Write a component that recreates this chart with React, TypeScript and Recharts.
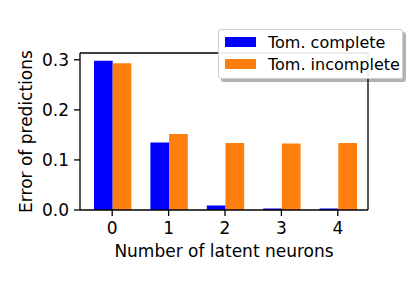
import { BarChart, Bar, XAxis, YAxis, Legend } from 'recharts';

const categories = ['0', '1', '2', '3', '4'];
const complete = [0.298, 0.135, 0.009, 0.003, 0.003];
const incomplete = [0.293, 0.152, 0.134, 0.133, 0.134];
const yTicks = [0, 0.1, 0.2, 0.3];

const data = categories.map((n, i) => ({ n, complete: complete[i], incomplete: incomplete[i] }));

const FONT = '"DejaVu Sans", sans-serif';
const BLUE = '#0000ff';
const ORANGE = '#ff7f0e';

const LegendBox = (props: any) => {
  const { payload = [] } = props;
  return (
    <div
      style={{
        width: 185,
        height: 50,
        boxSizing: 'border-box',
        border: '1px solid #cccccc',
        borderRadius: 3,
        background: 'rgba(255,255,255,0.9)',
        boxShadow: '3px 3px 0 rgba(0,0,0,0.3)',
        padding: '1px 0 0 6px',
        fontFamily: FONT,
        fontSize: 16,
        color: '#000',
        whiteSpace: 'nowrap',
      }}
    >
      {payload.map((entry: any) => (
        <div key={entry.value} style={{ display: 'flex', alignItems: 'center', height: 22 }}>
          <span style={{ width: 31, height: 10, background: entry.color, marginRight: 12, display: 'inline-block' }} />
          <span>{entry.value}</span>
        </div>
      ))}
    </div>
  );
};

export default function App() {
  const tickStyle = { fontSize: 17, fill: '#000', fontFamily: FONT };
  return (
    <div style={{ position: 'absolute', left: 0, top: 0, width: 415, height: 281, background: '#fff' }}>
      <BarChart
        width={415}
        height={281}
        data={data}
        margin={{ top: 52, right: 46, bottom: 0, left: 0 }}
        barGap={0}
      >
        <XAxis
          xAxisId="bottom"
          dataKey="n"
          height={71}
          padding={{ left: 4, right: 2 }}
          tick={tickStyle}
          tickSize={6}
          tickMargin={6}
          axisLine={{ stroke: '#000', strokeWidth: 1.3 }}
          tickLine={{ stroke: '#000', strokeWidth: 1.3 }}
          label={{
            value: 'Number of latent neurons',
            position: 'insideBottom',
            offset: 24,
            style: { fontSize: 17, fill: '#000', fontFamily: FONT },
          }}
        />
        <XAxis
          xAxisId="top"
          orientation="top"
          dataKey="n"
          height={1}
          tick={false}
          tickLine={false}
          axisLine={{ stroke: '#000', strokeWidth: 1.3 }}
        />
        <YAxis
          yAxisId="left"
          width={80}
          domain={[0, 0.3135]}
          ticks={yTicks}
          tickFormatter={(v: number) => v.toFixed(1)}
          tick={tickStyle}
          tickSize={6}
          tickMargin={5}
          axisLine={{ stroke: '#000', strokeWidth: 1.3 }}
          tickLine={{ stroke: '#000', strokeWidth: 1.3 }}
          label={{
            value: 'Error of predictions',
            angle: -90,
            position: 'center',
            dx: -14,
            style: { fontSize: 17, fill: '#000', fontFamily: FONT },
          }}
        />
        <YAxis
          yAxisId="right"
          orientation="right"
          width={1}
          domain={[0, 0.3135]}
          tick={false}
          tickLine={false}
          axisLine={{ stroke: '#000', strokeWidth: 1.3 }}
        />
        <Bar
          xAxisId="bottom"
          yAxisId="left"
          dataKey="complete"
          name="Tom. complete"
          fill={BLUE}
          barSize={18.7}
          isAnimationActive={false}
        />
        <Bar
          xAxisId="bottom"
          yAxisId="left"
          dataKey="incomplete"
          name="Tom. incomplete"
          fill={ORANGE}
          barSize={18.7}
          isAnimationActive={false}
        />
        <Legend
          layout="vertical"
          verticalAlign="middle"
          align="center"
          content={<LegendBox />}
          wrapperStyle={{ left: 218, top: 29, width: 185, height: 50 }}
        />
      </BarChart>
    </div>
  );
}
